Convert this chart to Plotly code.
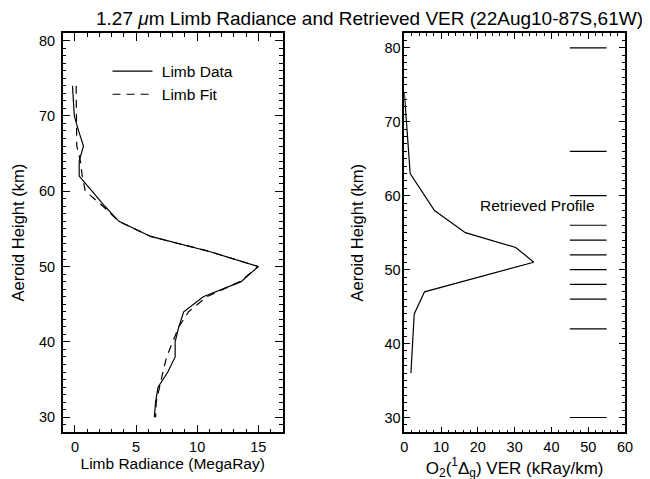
import plotly.graph_objects as go

# ---- data ----
limb_heights = [74, 72, 70, 68, 66, 64, 62, 60, 58, 56, 54, 52, 50, 48, 46, 44, 42, 40, 38, 36, 34, 32, 30]
limb_data = [-0.2, -0.15, -0.05, 0.3, 0.7, 0.35, 0.35, 1.4, 2.45, 3.6, 6.2, 11.0, 15.0, 13.6, 10.5, 8.9, 8.5, 8.2, 8.2, 7.6, 6.8, 6.6, 6.5]
limb_fit = [0.1, 0.1, 0.1, 0.1, 0.15, 0.45, 0.6, 0.85, 2.3, 3.6, 6.2, 11.0, 15.0, 13.5, 10.8, 9.3, 8.5, 8.0, 7.5, 7.2, 6.9, 6.65, 6.6]

ver_heights = [74, 63, 58, 55, 53, 51, 47, 44, 36]
ver_values = [0.0, 1.6, 8.2, 16.6, 30.3, 35.2, 5.5, 2.7, 1.8]

level_heights = [80, 66, 60, 56, 54, 52, 50, 48, 46, 42, 30]
level_x_start = 45
level_x_end = 55

FONT = "Liberation Sans"
FS = 14.5
W, H = 650, 479
OFF = 8  # page body margin


def fx(p):
    return (p - OFF) / W


def fy(p):
    return 1 - (p - OFF) / H


fig = go.Figure()

fig.add_trace(go.Scatter(x=limb_data, y=limb_heights, mode="lines", name="\u00a0Limb Data",
                         line=dict(color="black", width=1.2), xaxis="x", yaxis="y"))
fig.add_trace(go.Scatter(x=limb_fit, y=limb_heights, mode="lines", name="\u00a0Limb Fit",
                         line=dict(color="black", width=1.2, dash="8px,6px"), xaxis="x", yaxis="y"))

fig.add_trace(go.Scatter(x=ver_values, y=ver_heights, mode="lines", showlegend=False,
                         line=dict(color="black", width=1.2), xaxis="x2", yaxis="y2"))

lx, ly = [], []
for h in level_heights:
    lx += [level_x_start, level_x_end, None]
    ly += [h, h, None]
fig.add_trace(go.Scatter(x=lx, y=ly, mode="lines", showlegend=False,
                         line=dict(color="black", width=1.2), xaxis="x2", yaxis="y2"))

# invisible helper traces so that the mirrored tick axes (top / right) are drawn
fig.add_trace(go.Scatter(x=limb_data, y=limb_heights, mode="lines", showlegend=False, hoverinfo="skip",
                         line=dict(width=0), opacity=0, xaxis="x3", yaxis="y3"))
fig.add_trace(go.Scatter(x=ver_values, y=ver_heights, mode="lines", showlegend=False, hoverinfo="skip",
                         line=dict(width=0), opacity=0, xaxis="x4", yaxis="y4"))

tf = dict(family=FONT, size=FS, color="black")
ytf = dict(family=FONT, size=16.5, color="black")
axis_common = dict(showline=True, linecolor="black", linewidth=1.5, mirror=True,
                   ticks="inside", tickcolor="black", showgrid=False, zeroline=False,
                   automargin=False, tickfont=tf)

ydom = [fy(432.3), fy(33)]
xdom1 = [fx(62.7), fx(282.7)]
xdom2 = [fx(404.3), fx(625)]

x1t = dict(range=[-1, 17], tick0=0, dtick=5, ticklen=8, tickwidth=1,
           minor=dict(dtick=1, ticklen=4, ticks="inside", tickcolor="black"))
y1t = dict(range=[28, 81], tick0=0, dtick=10, ticklen=8, tickwidth=1,
           minor=dict(dtick=1, ticklen=4, ticks="inside", tickcolor="black"))
x2t = dict(range=[0, 60], tick0=0, dtick=10, ticklen=6, tickwidth=1,
           minor=dict(dtick=2, ticklen=3, ticks="inside", tickcolor="black"))
y2t = dict(range=[28, 82], tick0=0, dtick=10, ticklen=6, tickwidth=1,
           minor=dict(dtick=1, ticklen=3, ticks="inside", tickcolor="black"))

fig.update_layout(
    template="none",
    width=W, height=H,
    margin=dict(l=0, r=0, t=0, b=0, autoexpand=False),
    paper_bgcolor="white", plot_bgcolor="rgba(0,0,0,0)",
    font=dict(family=FONT, size=FS, color="black"),
    xaxis=dict(domain=xdom1, anchor="y", ticklabelstandoff=1,
               title=dict(text="Limb Radiance (MegaRay)", font=dict(family=FONT, size=15.5, color="black"), standoff=2),
               **x1t, **axis_common),
    yaxis=dict(domain=ydom, anchor="x", ticklabelstandoff=3,
               title=dict(text="Aeroid Height (km)", font=ytf, standoff=10),
               **y1t, **axis_common),
    xaxis2=dict(domain=xdom2, anchor="y2", ticklabelstandoff=1,
                title=dict(text="O<sub>2</sub>(<sup>1</sup>Δ<sub>g</sub>) VER (kRay/km)",
                           font=dict(family=FONT, size=17, color="black"), standoff=1),
                **x2t, **axis_common),
    yaxis2=dict(domain=ydom, anchor="x2", ticklabelstandoff=-1,
                title=dict(text="Aeroid Height (km)", font=ytf, standoff=17),
                **y2t, **axis_common),
    xaxis3=dict(domain=xdom1, anchor="y3", side="top", overlaying="x", showticklabels=False, **x1t, **axis_common),
    yaxis3=dict(domain=ydom, anchor="x3", side="right", overlaying="y", showticklabels=False, **y1t, **axis_common),
    xaxis4=dict(domain=xdom2, anchor="y4", side="top", overlaying="x2", showticklabels=False, **x2t, **axis_common),
    yaxis4=dict(domain=ydom, anchor="x4", side="right", overlaying="y2", showticklabels=False, **y2t, **axis_common),
    legend=dict(x=fx(107.5), y=fy(54.5), xanchor="left", yanchor="top", itemwidth=40,
                bgcolor="rgba(0,0,0,0)", borderwidth=0, font=dict(family=FONT, size=15.5, color="black")),
    title=dict(text="1.27 <i>μ</i>m Limb Radiance and Retrieved VER (22Aug10-87S,61W)",
               x=fx(369.5), xanchor="center", y=fy(18), yanchor="middle",
               font=dict(family=FONT, size=19, color="black")),
    annotations=[dict(text="Retrieved Profile", x=fx(478), y=fy(205.7), xref="paper", yref="paper",
                      xanchor="left", yanchor="middle", showarrow=False,
                      font=dict(family=FONT, size=15.5, color="black"))],
)

fig.write_html("out.html")
